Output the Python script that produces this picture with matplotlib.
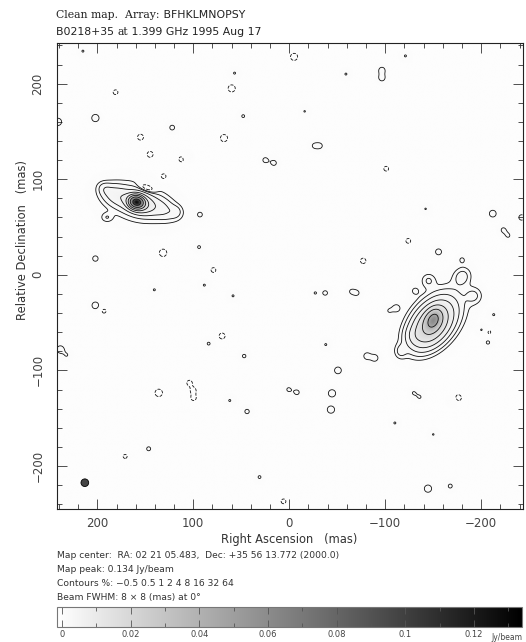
import numpy as np
import matplotlib.pyplot as plt
from matplotlib.patches import Ellipse
from matplotlib.ticker import MultipleLocator

plt.rcParams["font.family"] = ["DejaVu Sans"]

W, H = 526, 642

# map info
peak = 0.134
contour_pct = [-0.5, 0.5, 1, 2, 4, 8, 16, 32, 64]
beam_ra, beam_dec, beam_fwhm = 213, -217.5, 8.0
cbar_ticks = [0, 0.02, 0.04, 0.06, 0.08, 0.1, 0.12]
cbar_labels = ["0", "0.02", "0.04", "0.06", "0.08", "0.1", "0.12"]

# gaussian components of the two images (RA, Dec mas, Jy/beam, FWHM maj/min mas, PA deg)
comp_ra = [159, 157, 158, 180, 135, 190, 192, 118, 148,
           -150, -148, -152, -116, -130, -145, -180, -192]
comp_dec = [76, 75, 76, 83, 70, 60, 90, 66, 91,
            -47, -53, -47, -80, -64, -6, -2, -22]
comp_flux = [0.112, 0.013, 0.0025, 0.003, 0.0025, 0.0012, 0.0012, 0.0010, -0.0025,
             0.036, 0.020, 0.006, 0.0014, 0.0015, 0.0014, 0.0018, 0.0015]
comp_maj = [10, 20, 50, 24, 30, 8, 12, 10, 14, 16, 34, 48, 12, 14, 12, 16, 14]
comp_min = [8, 13, 30, 16, 16, 10, 10, 10, 6, 11, 22, 30, 10, 14, 12, 14, 14]
comp_pa = [75, 72, 75, 70, 68, 0, 60, 0, 70, -25, -38, -40, 0, 0, 0, -30, 0]

# small noise islands: position and peak in units of the lowest contour
noise_ra = [215, 181, 202, 241, 122, 155, 60, 57, 48, 68, 145, 112, 106, 25, 16,
            131, 93, 202, 131.5, 94, 79, -5, -121, -59, -96.5, -96.5, -16, -26, -32,
            -101, -142, -212, -242, -223, -228, -124, -77, -155.5, -180,
            140.6, 88.5, 58.6, 202, 193, 238.5, 232, 70, 84, 47, 136, 104, 100, 99.7,
            62, 44, 0.7, -8, 146.5, 171, 31, 6, -27, -37.5, -64.6, -70.5, -131,
            -104, -111.5, -38, -81, -89, -50.7, -44.5, -43.4, -213, -200.7, -208,
            -207, -129.5, -136, -176, -169.5, -110, -150, -144.5, -167.7]
noise_dec = [234, 191, 164, 160, 154, 144, 195, 211, 166, 143, 126, 121, 123, 120, 117,
             103, 63, 17, 23, 29, 5, 228, 229, 210, 214, 206, 171, 135, 135,
             111, 69, 64, 60, 47, 41, 35.5, 14.6, 24, 15.7,
             -15.7, -10.8, -22, -32, -38, -78, -84, -64, -72, -85, -123.5, -113, -121, -129,
             -131.5, -143, -120, -123, -182, -190, -211.6, -237, -19, -19, -17.4, -19, -16.7,
             -37.6, -34.8, -73, -85, -87, -100, -124, -141, -41.7, -57.7, -60,
             -70.7, -123.5, -128, -128.7, -132, -155, -167, -223.7, -221]
noise_amp = [1.05, -1.3, 1.85, 1.85, 1.3, -1.5, -1.8, 1.05, 1.1, -1.8, -1.5, -1.5, 1.1, 1.3, 1.3,
             -1.4, 1.25, 1.4, -1.9, 1.1, -1.3, -1.8, 1.05, 1.05, 1.5, 1.5, 1.03, 1.1, 1.2,
             -1.3, 1.03, 1.7, 1.4, 1.2, 1.1, -1.3, -1.4, 1.5, 1.15,
             1.05, 1.05, 1.05, 1.7, -1.2, 1.8, 1.03, -1.5, 1.1, 1.15, -1.9, -1.35, -1.35, -1.3,
             1.05, 1.25, 1.15, 1.25, 1.2, -1.2, 1.1, -1.3, 1.05, 1.25, 1.05, 1.15, 1.2,
             1.03, 1.6, 1.05, 1.6, 1.6, 1.7, 1.85, 1.85, 1.05, 1.1, -1.2,
             1.15, 1.03, 1.03, -1.6, 1.03, 1.05, 1.03, 1.85, 1.2]

ra = np.arange(243, -243.01, -0.5)
dec = np.arange(-245, 243.01, 0.5)
RA, DEC = np.meshgrid(ra, dec)


def gauss(ra0, dec0, amp, maj, mn, pa):
    p = np.radians(pa)
    dx = RA - ra0
    dy = DEC - dec0
    a = dx * np.sin(p) + dy * np.cos(p)
    b = dx * np.cos(p) - dy * np.sin(p)
    return amp * np.exp(-4 * np.log(2) * ((a / maj) ** 2 + (b / mn) ** 2))


img = np.zeros_like(RA)
for c in zip(comp_ra, comp_dec, comp_flux, comp_maj, comp_min, comp_pa):
    img += gauss(*c)
low = 0.005 * peak
for r0, d0, f in zip(noise_ra, noise_dec, noise_amp):
    img += gauss(r0, d0, f * low, beam_fwhm, beam_fwhm, 0)

fig = plt.figure(figsize=(W / 100, H / 100), dpi=100)
ax = fig.add_axes([57 / W, 1 - 509 / H, 466 / W, 466 / H])

im = ax.imshow(img, extent=[243.25, -243.25, -245.25, 243.25], origin="lower",
               cmap="gray_r", vmin=-0.0015, vmax=0.134, interpolation="bilinear",
               aspect="auto")
levels = [p / 100 * peak for p in contour_pct]
ax.contour(RA, DEC, img, levels=levels, colors="#111111", linewidths=0.6)
ax.add_patch(Ellipse((beam_ra, beam_dec), beam_fwhm, beam_fwhm,
                     facecolor="#444444", edgecolor="k", linewidth=0.6))

ax.set_xlim(242, -243.5)
ax.set_ylim(-245, 242.5)
ax.xaxis.set_major_locator(MultipleLocator(100))
ax.xaxis.set_minor_locator(MultipleLocator(20))
ax.yaxis.set_major_locator(MultipleLocator(100))
ax.yaxis.set_minor_locator(MultipleLocator(20))
ax.tick_params(which="both", direction="in", top=True, right=True, width=0.6, colors="#333333")
ax.tick_params(which="major", length=7, labelsize=8.5, labelcolor="#444444")
ax.tick_params(which="minor", length=3.5)
ax.tick_params(axis="x", pad=6)
ax.tick_params(axis="y", pad=9)
for lab in ax.get_yticklabels():
    lab.set_rotation(90)
    lab.set_va("center")
for s in ax.spines.values():
    s.set_linewidth(0.8)
    s.set_color("#222222")
ax.set_xticklabels([f"{int(v)}".replace("-", "\u2212") for v in ax.get_xticks()])

fig.text(289 / W, 1 - 539 / H, "Right Ascension   (mas)", ha="center", va="center",
         fontsize=8.3, color="#333333")
fig.text(23 / W, 1 - 240 / H, "Relative Declination   (mas)", ha="center", va="center",
         rotation=90, fontsize=8.3, color="#333333")

# title lines with the mixed roman / sans fonts
def chain(parts, x, y):
    prev = None
    for txt, fam in parts:
        if prev is None:
            prev = ax.annotate(txt, xy=(x / W, 1 - y / H), xycoords="figure fraction",
                               va="bottom", ha="left", fontsize=7.8, family=fam,
                               color="#222222", annotation_clip=False)
        else:
            prev = ax.annotate(txt, xy=(1, 0), xycoords=prev, va="bottom", ha="left",
                               fontsize=7.8, family=fam, color="#222222",
                               annotation_clip=False)


chain([("Clean map.  Array:", "DejaVu Serif"), (" BFHKLMNOPSY", "DejaVu Sans")], 56, 20)
chain([("B0218+35 ", "DejaVu Sans"), ("at", "DejaVu Serif"),
       (" 1.399 GHz 1995 Aug 17", "DejaVu Sans")], 56, 37)

info = ["Map center:  RA: 02 21 05.483,  Dec: +35 56 13.772 (2000.0)",
        "Map peak: 0.134 Jy/beam",
        "Contours %: \u22120.5 0.5 1 2 4 8 16 32 64",
        "Beam FWHM: 8 \u00d7 8 (mas) at 0\u00b0"]
for i, line in enumerate(info):
    fig.text(57 / W, 1 - (556 + i * 13.7) / H, line, ha="left", va="center",
             fontsize=6.6, color="#333333")

cax = fig.add_axes([57 / W, 1 - 627 / H, 465 / W, 20 / H])
cb = fig.colorbar(im, cax=cax, orientation="horizontal")
cb.set_ticks(cbar_ticks)
cb.set_ticklabels(cbar_labels)
cb.ax.xaxis.set_minor_locator(MultipleLocator(0.01))
cb.ax.tick_params(which="both", direction="in", top=True, bottom=True, width=0.6,
                  colors="#555555", labelsize=6, pad=2, labelcolor="#444444")
cb.ax.tick_params(which="major", length=5)
cb.ax.tick_params(which="minor", length=3)
cb.outline.set_edgecolor("#777777")
cb.outline.set_linewidth(0.8)
fig.text(522 / W, 1 - 638 / H, "Jy/beam", ha="right", va="center", fontsize=5.5,
         color="#444444")

fig.savefig("out.png", dpi=100)
